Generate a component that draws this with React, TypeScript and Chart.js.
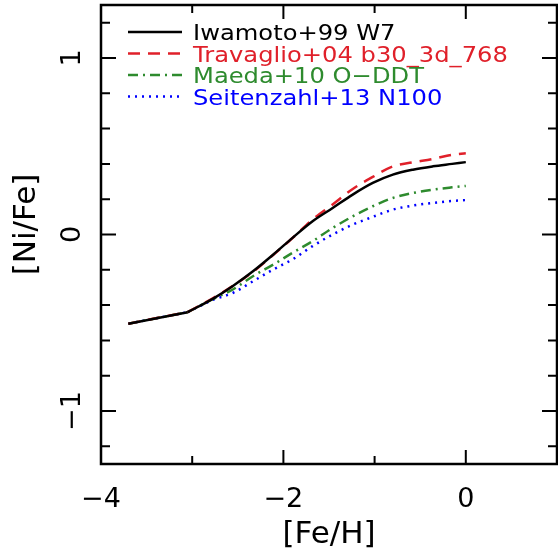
import { useEffect, useRef } from "react";
import { Chart, registerables } from "chart.js";

Chart.register(...registerables);

// [Fe/H] sample positions
const feH = [-3.7, -3.05, -2.77, -2.55, -2.33, -2.11, -1.9, -1.68, -1.46, -1.24, -1.02, -0.8, -0.58, -0.36, -0.15, 0];
// [Ni/Fe] for each model
const iwamotoW7 = [-0.505, -0.44, -0.363, -0.29, -0.207, -0.113, -0.019, 0.075, 0.15, 0.226, 0.292, 0.339, 0.367, 0.386, 0.4, 0.41];
const travaglio = [-0.505, -0.44, -0.36, -0.29, -0.21, -0.115, -0.02, 0.085, 0.17, 0.258, 0.326, 0.386, 0.409, 0.428, 0.452, 0.46];
const maedaODDT = [-0.505, -0.44, -0.365, -0.31, -0.235, -0.17, -0.104, -0.038, 0.037, 0.103, 0.16, 0.207, 0.235, 0.254, 0.267, 0.275];
const seitenzahl = [-0.505, -0.44, -0.37, -0.33, -0.264, -0.198, -0.141, -0.066, 0.0, 0.056, 0.1, 0.141, 0.164, 0.179, 0.19, 0.195];

const seriesNames = ["Iwamoto+99 W7", "Travaglio+04 b30_3d_768", "Maeda+10 O\u2212DDT", "Seitenzahl+13 N100"];
const seriesValues = [iwamotoW7, travaglio, maedaODDT, seitenzahl];
const seriesColors = ["#000000", "#e0202a", "#2e8b2e", "#0000ff"];
const seriesDashes: number[][] = [[], [12, 8], [10, 5, 2, 5], [2, 5]];

const xTickValues = [-4, -2, 0];
const xTickLabels = ["\u22124", "\u22122", "0"];
const yTickValues = [-1, 0, 1];
const yTickLabels = ["\u22121", "0", "1"];
const xTitle = "[Fe/H]";
const yTitle = "[Ni/Fe]";

// index where the straight low-metallicity segment joins the smooth curve
const kinkIndex = 1;

export default function App() {
  const ref = useRef<HTMLCanvasElement>(null);

  useEffect(() => {
    const canvas = ref.current;
    if (!canvas) return;

    const framePlugin = {
      id: "frame",
      afterDraw(chart: any) {
        const ctx = chart.ctx as CanvasRenderingContext2D;
        const { left, right, top, bottom } = chart.chartArea;
        const xs = chart.scales.x;
        const ys = chart.scales.y;
        ctx.save();
        ctx.strokeStyle = "#000";
        ctx.fillStyle = "#000";
        ctx.lineWidth = 2.5;
        ctx.setLineDash([]);
        ctx.strokeRect(left, top, right - left, bottom - top);

        // x ticks (every 1, major every 2)
        ctx.lineWidth = 2;
        for (let v = -4; v <= 1; v++) {
          const px = xs.getPixelForValue(v);
          const len = v % 2 === 0 ? 14 : 8;
          ctx.beginPath();
          ctx.moveTo(px, bottom);
          ctx.lineTo(px, bottom - len);
          ctx.moveTo(px, top);
          ctx.lineTo(px, top + len);
          ctx.stroke();
        }
        // y ticks (every 0.2, major every 1)
        for (let k = -6; k <= 6; k++) {
          const py = ys.getPixelForValue(k * 0.2);
          const len = k % 5 === 0 ? 15 : 9;
          ctx.beginPath();
          ctx.moveTo(left, py);
          ctx.lineTo(left + len, py);
          ctx.moveTo(right, py);
          ctx.lineTo(right - len, py);
          ctx.stroke();
        }

        // x tick labels
        ctx.font = '27px "DejaVu Sans"';
        ctx.textAlign = "center";
        ctx.textBaseline = "alphabetic";
        xTickValues.forEach((v, i) => {
          ctx.fillText(xTickLabels[i], xs.getPixelForValue(v), bottom + 43);
        });
        // y tick labels (rotated)
        yTickValues.forEach((v, i) => {
          ctx.save();
          ctx.translate(left - 21, ys.getPixelForValue(v));
          ctx.rotate(-Math.PI / 2);
          ctx.fillText(yTickLabels[i], 0, 0);
          ctx.restore();
        });

        // titles
        ctx.font = '31px "DejaVu Sans"';
        ctx.fillText(xTitle, (left + right) / 2, bottom + 79);
        ctx.save();
        ctx.translate(left - 66, (top + bottom) / 2 - 10);
        ctx.rotate(-Math.PI / 2);
        ctx.fillText(yTitle, 0, 0);
        ctx.restore();

        // legend
        const legendYs = [32, 53.5, 75, 96.5];
        ctx.font = '22px "DejaVu Sans"';
        ctx.textAlign = "left";
        ctx.lineWidth = 2.5;
        seriesNames.forEach((name, i) => {
          const ly = legendYs[i];
          ctx.strokeStyle = seriesColors[i];
          ctx.setLineDash(seriesDashes[i]);
          ctx.beginPath();
          ctx.moveTo(left + 27, ly);
          ctx.lineTo(left + 81, ly);
          ctx.stroke();
          ctx.setLineDash([]);
          ctx.fillStyle = seriesColors[i];
          ctx.save();
          ctx.translate(left + 92, ly + 8);
          ctx.scale(1.1, 1);
          ctx.fillText(name, 0, 0);
          ctx.restore();
        });
        ctx.restore();
      },
    };

    const datasets: any[] = [];
    seriesNames.forEach((name, i) => {
      const pts = feH.map((x, j) => ({ x, y: seriesValues[i][j] }));
      const common = {
        borderColor: seriesColors[i],
        borderDash: seriesDashes[i],
        borderWidth: 2.5,
        pointRadius: 0,
        fill: false,
      };
      // straight segment up to the kink
      datasets.push({ ...common, label: name + " (low)", data: pts.slice(0, kinkIndex + 1), tension: 0 });
      // smooth curve after the kink
      datasets.push({ ...common, label: name, data: pts.slice(kinkIndex), cubicInterpolationMode: "monotone" });
    });

    const chart = new Chart(canvas, {
      type: "line",
      data: { datasets },
      options: {
        animation: false,
        responsive: false,
        devicePixelRatio: 1,
        layout: { padding: { left: 101, right: 1, top: 5, bottom: 90 } },
        plugins: { legend: { display: false }, tooltip: { enabled: false } },
        scales: {
          x: { type: "linear", min: -4, max: 1, display: false },
          y: { type: "linear", min: -1.3, max: 1.3, display: false },
        },
      },
      plugins: [framePlugin],
    });
    return () => chart.destroy();
  }, []);

  return (
    <div style={{ position: "absolute", left: 0, top: 0, width: 558, height: 554, background: "#fff" }}>
      <canvas ref={ref} width={558} height={554} style={{ display: "block" }} />
    </div>
  );
}
